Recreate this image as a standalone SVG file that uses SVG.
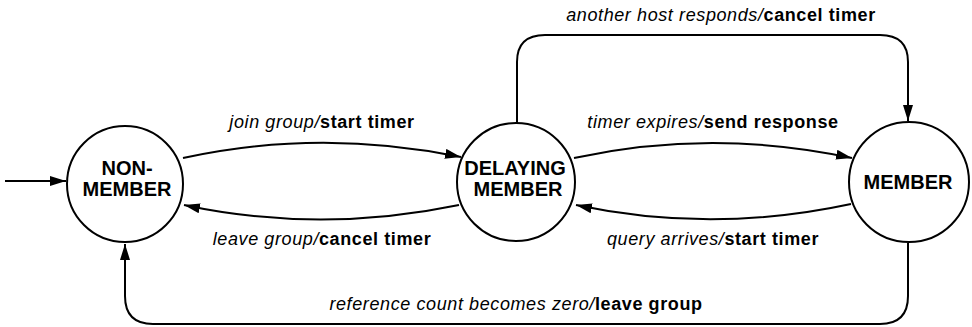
<svg xmlns="http://www.w3.org/2000/svg" width="972" height="327" viewBox="0 0 972 327">
<defs>
<marker id="ah" markerUnits="userSpaceOnUse" markerWidth="17" markerHeight="12" refX="16" refY="5" orient="auto">
<path d="M0,0 L16,5 L0,10 z" fill="#000"/>
</marker>
<style>
.node{fill:#fff;stroke:#000;stroke-width:2}
.nt{font-family:"Liberation Sans",Arial,sans-serif;font-weight:bold;font-size:20px;text-anchor:middle;fill:#000}
.edge{fill:none;stroke:#000;stroke-width:2;marker-end:url(#ah)}
.lb{font-family:"Liberation Sans",Arial,sans-serif;font-size:18px;letter-spacing:0.6px;text-anchor:middle;fill:#000}
.ev{font-style:italic}
.ac{font-weight:bold}
</style>
</defs>
<g id="connectors">
<path class="edge" d="M5,181 H66"/>
<path class="edge" d="M183,158 Q320,128 461,157"/>
<path class="edge" d="M459,205 Q320,234 184,205"/>
<path class="edge" d="M574,158 Q712,128 852,158"/>
<path class="edge" d="M851,204 Q712,234 576,205"/>
<path class="edge" d="M517,123 V62 Q517,35 545,35 H880 Q908,35 908,62 V121"/>
<path class="edge" d="M908,243 V296 Q908,324 880,324 H153 Q125,324 125,296 V244"/>
<text class="lb" x="322" y="128"><tspan class="ev">join group/</tspan><tspan class="ac">start timer</tspan></text>
<text class="lb" x="322" y="245"><tspan class="ev">leave group/</tspan><tspan class="ac">cancel timer</tspan></text>
<text class="lb" x="713" y="128"><tspan class="ev">timer expires/</tspan><tspan class="ac">send response</tspan></text>
<text class="lb" x="713" y="245"><tspan class="ev">query arrives/</tspan><tspan class="ac">start timer</tspan></text>
<text class="lb" x="721" y="21"><tspan class="ev">another host responds/</tspan><tspan class="ac">cancel timer</tspan></text>
<text class="lb" x="516" y="310"><tspan class="ev">reference count becomes zero/</tspan><tspan class="ac">leave group</tspan></text>
</g>
<g id="non-member">
<circle class="node" cx="125" cy="184" r="58"/>
<text class="nt" x="127" y="175">NON-</text>
<text class="nt" x="127" y="196">MEMBER</text>
</g>
<g id="delaying-member">
<circle class="node" cx="516" cy="182" r="59"/>
<text class="nt" x="515" y="175">DELAYING</text>
<text class="nt" x="518" y="196">MEMBER</text>
</g>
<g id="member">
<circle class="node" cx="909" cy="182" r="60"/>
<text class="nt" x="908" y="189">MEMBER</text>
</g>
</svg>
